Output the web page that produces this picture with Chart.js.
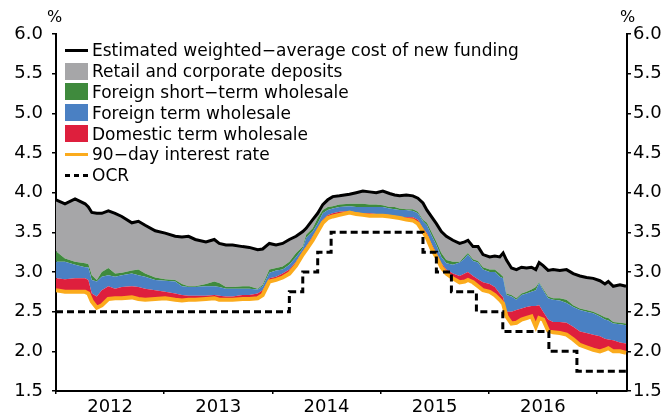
<!DOCTYPE html>
<html><head><meta charset="utf-8">
<script src="https://cdn.jsdelivr.net/npm/chart.js@4.4.1/dist/chart.umd.min.js"></script>
<style>
html,body{margin:0;padding:0;background:#fff;}
#wrap{position:relative;width:670px;height:414px;overflow:hidden;}
canvas{position:absolute;left:0;top:0;}
.pct{position:absolute;font-family:"DejaVu Sans";font-size:16px;line-height:16px;color:#000;}
#legend{position:absolute;left:65px;top:40px;font-family:"DejaVu Sans";font-size:17px;color:#000;}
.row{height:20.8px;display:flex;align-items:center;white-space:nowrap;}
.sw{width:23px;height:17px;margin-right:4px;flex:none;position:relative;}
.ln{position:absolute;left:0;right:0;top:7px;height:3px;}
</style></head>
<body>
<div id="wrap">
<canvas id="c" width="670" height="414"></canvas>
<div class="pct" style="left:47px;top:9px;">%</div>
<div class="pct" style="left:620px;top:9px;">%</div>
<div id="legend"></div>
</div>
<script>
// Dates as fractional years
const dates = [2012.000,2012.083,2012.176,2012.269,2012.299,2012.331,2012.377,2012.423,2012.484,2012.546,2012.608,2012.701,2012.762,2012.824,2012.917,2013.009,2013.102,2013.164,2013.225,2013.287,
2013.386,2013.463,2013.509,2013.571,2013.632,2013.725,2013.787,2013.864,2013.910,2013.972,2014.034,2014.095,2014.157,2014.219,2014.281,2014.312,2014.373,2014.419,2014.466,2014.512,2014.558,2014.620,
2014.713,2014.775,2014.836,2014.898,2014.960,2015.021,2015.083,2015.130,2015.176,2015.238,2015.299,2015.345,2015.392,2015.429,2015.469,2015.516,2015.562,2015.608,2015.669,2015.731,2015.778,2015.808,2015.855,2015.901,2015.947,2016.009,
2016.056,2016.102,2016.133,2016.164,2016.210,2016.256,2016.303,2016.349,2016.395,2016.435,2016.466,2016.503,2016.549,2016.595,2016.657,2016.719,2016.781,2016.843,2016.904,2016.966,2017.028,2017.074,2017.105,2017.151,2017.213,2017.269];

// Estimated weighted-average cost of new funding (%)
const fundingCost = [3.91,3.86,3.92,3.86,3.82,3.75,3.74,3.74,3.77,3.74,3.70,3.62,3.64,3.59,3.52,3.49,3.45,3.44,3.45,3.41,
3.38,3.41,3.36,3.34,3.34,3.32,3.31,3.28,3.29,3.36,3.34,3.36,3.41,3.45,3.51,3.55,3.66,3.74,3.85,3.91,3.95,3.96,
3.98,4.00,4.02,4.01,4.00,4.02,3.99,3.97,3.96,3.97,3.96,3.93,3.87,3.78,3.70,3.61,3.51,3.45,3.40,3.36,3.38,3.40,3.32,3.32,3.22,3.19,
3.20,3.19,3.24,3.15,3.05,3.03,3.06,3.05,3.06,3.03,3.12,3.08,3.02,3.03,3.02,3.03,2.98,2.95,2.93,2.92,2.89,2.85,2.88,2.82,2.84,2.82];

// Upper edge of the foreign short-term wholesale band (%)
const foreignShortTerm = [3.26,3.17,3.13,3.11,3.10,2.96,2.90,3.00,3.05,2.98,2.99,3.02,3.03,2.98,2.93,2.91,2.90,2.85,2.82,2.82,
2.85,2.88,2.86,2.81,2.81,2.82,2.82,2.79,2.84,3.03,3.05,3.07,3.13,3.24,3.32,3.47,3.55,3.68,3.78,3.82,3.83,3.85,
3.86,3.86,3.86,3.85,3.85,3.84,3.82,3.82,3.80,3.79,3.79,3.76,3.66,3.62,3.51,3.38,3.24,3.15,3.13,3.13,3.20,3.24,3.16,3.14,3.06,3.03,
3.03,2.98,2.94,2.73,2.71,2.67,2.73,2.75,2.78,2.81,2.87,2.79,2.69,2.67,2.67,2.65,2.58,2.54,2.52,2.50,2.46,2.43,2.42,2.37,2.36,2.35];

// Upper edge of the foreign term wholesale band (%)
const foreignTerm = [3.13,3.13,3.09,3.06,3.06,2.90,2.88,2.94,2.96,2.94,2.96,2.98,2.96,2.94,2.90,2.89,2.88,2.82,2.81,2.81,
2.82,2.82,2.81,2.79,2.79,2.79,2.79,2.78,2.82,2.99,3.02,3.03,3.09,3.19,3.30,3.43,3.51,3.61,3.74,3.78,3.80,3.82,
3.83,3.82,3.82,3.82,3.82,3.82,3.80,3.79,3.78,3.78,3.77,3.74,3.64,3.59,3.47,3.34,3.19,3.11,3.09,3.12,3.17,3.22,3.14,3.12,3.03,3.00,
3.00,2.94,2.92,2.71,2.69,2.65,2.71,2.73,2.75,2.77,2.86,2.77,2.67,2.65,2.64,2.61,2.56,2.52,2.50,2.48,2.44,2.40,2.39,2.35,2.34,2.33];

// Upper edge of the domestic term wholesale band (%)
const domesticTerm = [2.92,2.91,2.92,2.92,2.90,2.73,2.69,2.77,2.82,2.79,2.81,2.82,2.81,2.79,2.77,2.75,2.73,2.71,2.70,2.70,
2.70,2.71,2.70,2.69,2.69,2.71,2.71,2.73,2.77,2.92,2.94,2.98,3.03,3.13,3.26,3.32,3.45,3.55,3.66,3.72,3.74,3.76,
3.77,3.75,3.74,3.74,3.73,3.73,3.72,3.71,3.70,3.69,3.69,3.66,3.55,3.49,3.36,3.24,3.11,3.03,2.98,2.95,2.98,3.00,2.95,2.91,2.87,2.85,
2.81,2.73,2.68,2.50,2.50,2.52,2.54,2.56,2.57,2.57,2.58,2.50,2.40,2.37,2.37,2.36,2.31,2.25,2.23,2.21,2.19,2.16,2.15,2.14,2.11,2.10];

// 90-day interest rate (%)
const rate90 = [2.77,2.75,2.75,2.75,2.73,2.63,2.55,2.58,2.66,2.67,2.67,2.68,2.66,2.65,2.66,2.67,2.65,2.64,2.65,2.65,
2.66,2.67,2.65,2.65,2.65,2.66,2.66,2.67,2.71,2.88,2.90,2.93,2.98,3.08,3.22,3.28,3.40,3.51,3.62,3.68,3.70,3.72,
3.75,3.73,3.72,3.71,3.71,3.71,3.70,3.69,3.68,3.66,3.65,3.61,3.51,3.43,3.30,3.19,3.06,2.98,2.92,2.87,2.88,2.90,2.87,2.82,2.77,2.75,
2.71,2.65,2.60,2.44,2.35,2.36,2.40,2.42,2.44,2.31,2.42,2.40,2.26,2.24,2.23,2.21,2.15,2.08,2.05,2.02,2.00,2.02,2.04,2.00,2.00,1.98];

// OCR change dates and levels
const ocrDates  = [2012.000,2014.157,2014.281,2014.419,2014.543,2015.392,2015.516,2015.655,2015.886,2016.130,2016.556,2016.815,2017.269];
const ocrValues = [2.50,2.75,3.00,3.25,3.50,3.25,3.00,2.75,2.50,2.25,2.00,1.75,1.75];

const yearLabels = ['2012','2013','2014','2015','2016'];
const yTickLabels = ['1.5','2.0','2.5','3.0','3.5','4.0','4.5','5.0','5.5','6.0'];

const seriesNames = ['Estimated weighted\u2212average cost of new funding','Retail and corporate deposits','Foreign short\u2212term wholesale','Foreign term wholesale','Domestic term wholesale','90\u2212day interest rate','OCR'];
const C = {black:'#000000', gray:'#a6a6a8', green:'#3f8a3d', blue:'#4a80c3', red:'#de1f3d', orange:'#fbab1d'};

const pts = arr => arr.map((v,i)=>({x:dates[i], y:v}));
const ocrPts = ocrValues.map((v,i)=>({x:ocrDates[i], y:v}));

const yr0 = parseInt(yearLabels[0]);
const xTicks = [];
for (let i=0;i<=yearLabels.length;i++){ xTicks.push(yr0+i); if(i<yearLabels.length) xTicks.push(yr0+i+0.5); }

const yFont = {family:'DejaVu Sans', size:18};
function yAxis(pos, w, pad){
  return {
    position:pos, min:1.5, max:6.0,
    afterBuildTicks: s => { s.ticks = yTickLabels.map(t=>({value:parseFloat(t)})); },
    ticks:{callback:(v)=>{const i=yTickLabels.findIndex(t=>Math.abs(parseFloat(t)-v)<1e-6); return i>=0?yTickLabels[i]:'';}, color:'#000', font:yFont, padding:pad, autoSkip:false},
    grid:{drawOnChartArea:false, drawTicks:true, tickLength:4, color:'#000', lineWidth:1.5},
    border:{display:true, color:'#000', width:2},
    afterFit: s => { s.width = w; }
  };
}

new Chart(document.getElementById('c'), {
  type:'line',
  data:{datasets:[
    {label:seriesNames[5], data:pts(rate90), borderColor:C.orange, borderWidth:4, fill:false},
    {label:seriesNames[4], data:pts(domesticTerm), borderWidth:0, borderColor:'rgba(0,0,0,0)', backgroundColor:C.red, fill:'-1'},
    {label:seriesNames[3], data:pts(foreignTerm), borderWidth:0, borderColor:'rgba(0,0,0,0)', backgroundColor:C.blue, fill:'-1'},
    {label:seriesNames[2], data:pts(foreignShortTerm), borderWidth:0, borderColor:'rgba(0,0,0,0)', backgroundColor:C.green, fill:'-1'},
    {label:seriesNames[0], data:pts(fundingCost), borderColor:C.black, borderWidth:3, backgroundColor:C.gray, fill:'-1'},
    {label:seriesNames[6], data:ocrPts, borderColor:C.black, borderWidth:3, borderDash:[7,4], stepped:'before', fill:false, order:-1}
  ]},
  options:{
    responsive:false, animation:false, devicePixelRatio:1,
    layout:{padding:{top:34,left:0,right:0,bottom:0}},
    plugins:{legend:{display:false}, tooltip:{enabled:false}},
    elements:{point:{radius:0}, line:{tension:0}},
    scales:{
      x:{type:'linear', min:2012, max:2017.278,
        afterBuildTicks: s => { s.ticks = xTicks.map(v=>({value:v})); },
        ticks:{autoSkip:false, maxRotation:0, padding:3, color:'#000', font:{family:'DejaVu Sans', size:18},
          callback:(v)=> (Math.abs(v%1-0.5)<1e-6) ? yearLabels[Math.floor(v)-yr0] : ''},
        grid:{drawOnChartArea:false, drawTicks:true, tickLength:3,
          color:(c)=> (c.tick && Math.abs(c.tick.value%1)<1e-6) ? '#000' : 'rgba(0,0,0,0)', lineWidth:1.5},
        border:{display:true, color:'#000', width:2},
        afterFit: s => { s.height = 23; }
      },
      y: yAxis('left', 56, 9),
      y2: yAxis('right', 43, 2)
    }
  }
});

// HTML legend
const legendItems = [
  {name:seriesNames[0], type:'line', color:C.black},
  {name:seriesNames[1], type:'box', color:C.gray},
  {name:seriesNames[2], type:'box', color:C.green},
  {name:seriesNames[3], type:'box', color:C.blue},
  {name:seriesNames[4], type:'box', color:C.red},
  {name:seriesNames[5], type:'line', color:C.orange},
  {name:seriesNames[6], type:'dash', color:C.black}
];
const lg = document.getElementById('legend');
legendItems.forEach(it=>{
  const row = document.createElement('div'); row.className='row';
  const sw = document.createElement('div'); sw.className='sw';
  if (it.type==='box') sw.style.background = it.color;
  else {
    const l = document.createElement('div'); l.className='ln';
    l.style.background = it.type==='line' ? it.color : 'repeating-linear-gradient(90deg,#000 0 5px,transparent 5px 9px)';
    sw.appendChild(l);
  }
  const tx = document.createElement('span'); tx.textContent = it.name;
  row.appendChild(sw); row.appendChild(tx); lg.appendChild(row);
});
</script>
</body></html>
